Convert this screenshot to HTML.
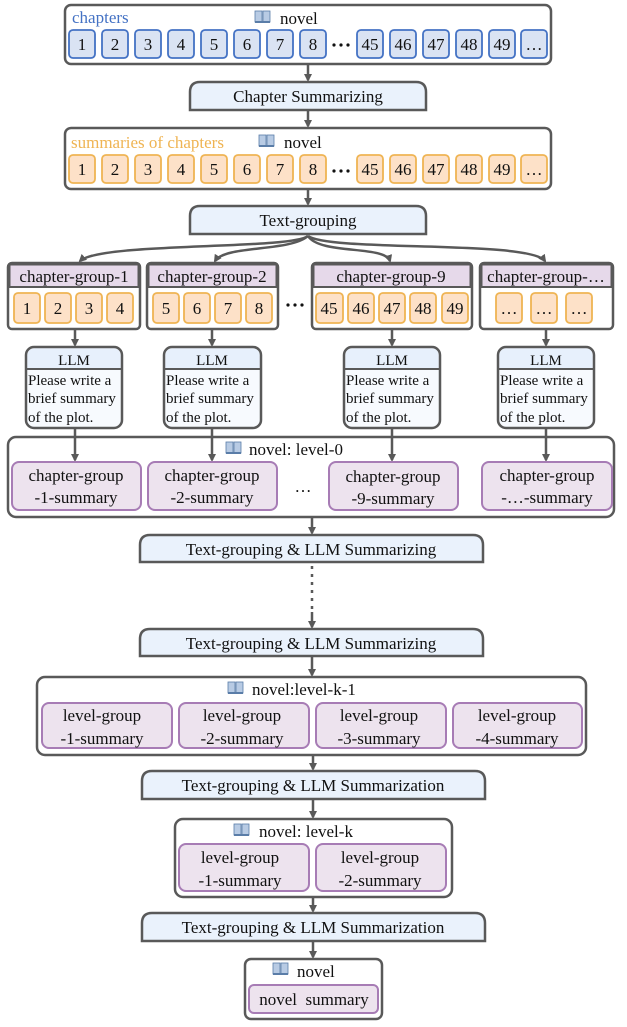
<!DOCTYPE html>
<html><head><meta charset="utf-8"><style>
body{margin:0;background:#fff}
svg, svg text{font-family:"Liberation Serif","Times New Roman","DejaVu Serif",serif}
</style></head><body>
<svg width="627" height="1022" viewBox="0 0 627 1022" xmlns="http://www.w3.org/2000/svg" font-family="Liberation Serif, Times New Roman, DejaVu Serif, serif">
<defs>
<marker id="ah" markerWidth="8" markerHeight="8" refX="6" refY="4" orient="auto" markerUnits="userSpaceOnUse"><path d="M0,0 L8,4 L0,8 Z" fill="#595959"/></marker>
<g id="book"><rect x="0" y="0" width="7" height="11" fill="#b8cbe4" stroke="#5a7da8" stroke-width="0.8"/><rect x="8" y="0" width="7" height="11" fill="#b8cbe4" stroke="#5a7da8" stroke-width="0.8"/><rect x="0" y="10" width="15" height="2" fill="#5a7da8"/></g>
</defs>
<g stroke="#595959" stroke-width="2.5" fill="none">
<rect x="65" y="5" width="486" height="59" rx="6" fill="#fff"/>
<rect x="65" y="128" width="486" height="61" rx="6" fill="#fff"/>
<rect x="8" y="437" width="606" height="80" rx="8" fill="#fff"/>
<rect x="37" y="677" width="549" height="78" rx="8" fill="#fff"/>
<rect x="175" y="819" width="277" height="78" rx="8" fill="#fff"/>
<rect x="245" y="959" width="137" height="60" rx="6" fill="#fff"/>
<path d="M190,110 V92 Q190,82 200,82 H416 Q426,82 426,92 V110 Z" fill="#eaf2fc"/>
<path d="M190,234 V216 Q190,206 200,206 H416 Q426,206 426,216 V234 Z" fill="#eaf2fc"/>
<path d="M140,562 V545 Q140,535 150,535 H473 Q483,535 483,545 V562 Z" fill="#eaf2fc"/>
<path d="M140,656 V639 Q140,629 150,629 H473 Q483,629 483,639 V656 Z" fill="#eaf2fc"/>
<path d="M142,799 V781 Q142,771 152,771 H475 Q485,771 485,781 V799 Z" fill="#eaf2fc"/>
<path d="M142,941 V923 Q142,913 152,913 H475 Q485,913 485,923 V941 Z" fill="#eaf2fc"/>
<rect x="8" y="263" width="132" height="66" rx="4" fill="#fff"/>
<rect x="147" y="263" width="131" height="66" rx="4" fill="#fff"/>
<rect x="312" y="263" width="160" height="66" rx="4" fill="#fff"/>
<rect x="480" y="263" width="133" height="66" rx="4" fill="#fff"/>
<rect x="26" y="347" width="96" height="81" rx="8" fill="#f7fafe"/>
<rect x="164" y="347" width="97" height="81" rx="8" fill="#f7fafe"/>
<rect x="344" y="347" width="96" height="81" rx="8" fill="#f7fafe"/>
<rect x="498" y="347" width="96" height="81" rx="8" fill="#f7fafe"/>
</g>
<g stroke="#595959" stroke-width="2">
<path d="M9.5,264.5 H138.5 V287 H9.5 Z" fill="#e6d9ea"/>
<path d="M148.5,264.5 H276.5 V287 H148.5 Z" fill="#e6d9ea"/>
<path d="M313.5,264.5 H470.5 V287 H313.5 Z" fill="#e6d9ea"/>
<path d="M481.5,264.5 H611.5 V287 H481.5 Z" fill="#e6d9ea"/>
</g>
<g stroke="none" fill="#e7f0fc">
<path d="M27.5,369 V356 Q27.5,348.5 35,348.5 H113 Q120.5,348.5 120.5,356 V369 Z"/>
<path d="M165.5,369 V356 Q165.5,348.5 173,348.5 H252 Q259.5,348.5 259.5,356 V369 Z"/>
<path d="M345.5,369 V356 Q345.5,348.5 353,348.5 H431 Q438.5,348.5 438.5,356 V369 Z"/>
<path d="M499.5,369 V356 Q499.5,348.5 507,348.5 H585 Q592.5,348.5 592.5,356 V369 Z"/>
</g>
<g stroke="#595959" stroke-width="2">
<line x1="27" y1="369" x2="121" y2="369"/><line x1="165" y1="369" x2="260" y2="369"/><line x1="345" y1="369" x2="439" y2="369"/><line x1="499" y1="369" x2="593" y2="369"/>
</g>
<g stroke="#595959" stroke-width="2.5" fill="none" marker-end="url(#ah)">
<line x1="308" y1="64" x2="308" y2="80"/>
<line x1="308" y1="110" x2="308" y2="126"/>
<line x1="308" y1="189" x2="308" y2="204"/>
<path d="M308,236 C290,250 100,242 80,261"/>
<path d="M308,236 C290,252 225,245 215,261"/>
<path d="M308,236 C320,255 385,245 390,261"/>
<path d="M308,236 C330,252 530,240 545,261"/>
<line x1="75" y1="329" x2="75" y2="345"/>
<line x1="212" y1="329" x2="212" y2="345"/>
<line x1="392" y1="329" x2="392" y2="345"/>
<line x1="546" y1="329" x2="546" y2="345"/>
<line x1="75" y1="428" x2="75" y2="460"/>
<line x1="212" y1="428" x2="212" y2="460"/>
<line x1="392" y1="428" x2="392" y2="460"/>
<line x1="546" y1="428" x2="546" y2="460"/>
<line x1="312" y1="517" x2="312" y2="533"/>
<line x1="312" y1="612" x2="312" y2="627"/>
<line x1="312" y1="656" x2="312" y2="675"/>
<line x1="313" y1="755" x2="313" y2="769"/>
<line x1="313" y1="799" x2="313" y2="817"/>
<line x1="313" y1="897" x2="313" y2="911"/>
<line x1="313" y1="941" x2="313" y2="957"/>
</g>
<g stroke="#595959" stroke-width="2.5" stroke-dasharray="3,5"><line x1="312" y1="566" x2="312" y2="612"/></g>

<g stroke="#4472c4" stroke-width="1.8" fill="#dae3f3">
<rect x="69" y="30" width="26" height="28" rx="4"/><rect x="102" y="30" width="26" height="28" rx="4"/><rect x="135" y="30" width="26" height="28" rx="4"/><rect x="168" y="30" width="26" height="28" rx="4"/><rect x="201" y="30" width="26" height="28" rx="4"/><rect x="234" y="30" width="26" height="28" rx="4"/><rect x="267" y="30" width="26" height="28" rx="4"/><rect x="300" y="30" width="26" height="28" rx="4"/>
<rect x="357" y="30" width="26" height="28" rx="4"/><rect x="390" y="30" width="26" height="28" rx="4"/><rect x="423" y="30" width="26" height="28" rx="4"/><rect x="456" y="30" width="26" height="28" rx="4"/><rect x="489" y="30" width="26" height="28" rx="4"/><rect x="521" y="30" width="26" height="28" rx="4"/>
</g>
<g stroke="#efb453" stroke-width="1.8" fill="#fde1c8">
<rect x="69" y="155" width="26" height="28" rx="4"/><rect x="102" y="155" width="26" height="28" rx="4"/><rect x="135" y="155" width="26" height="28" rx="4"/><rect x="168" y="155" width="26" height="28" rx="4"/><rect x="201" y="155" width="26" height="28" rx="4"/><rect x="234" y="155" width="26" height="28" rx="4"/><rect x="267" y="155" width="26" height="28" rx="4"/><rect x="300" y="155" width="26" height="28" rx="4"/>
<rect x="357" y="155" width="26" height="28" rx="4"/><rect x="390" y="155" width="26" height="28" rx="4"/><rect x="423" y="155" width="26" height="28" rx="4"/><rect x="456" y="155" width="26" height="28" rx="4"/><rect x="489" y="155" width="26" height="28" rx="4"/><rect x="521" y="155" width="26" height="28" rx="4"/>
<rect x="14" y="293" width="26" height="30" rx="4"/><rect x="45" y="293" width="26" height="30" rx="4"/><rect x="76" y="293" width="26" height="30" rx="4"/><rect x="107" y="293" width="26" height="30" rx="4"/>
<rect x="153" y="293" width="26" height="30" rx="4"/><rect x="184" y="293" width="26" height="30" rx="4"/><rect x="215" y="293" width="26" height="30" rx="4"/><rect x="246" y="293" width="26" height="30" rx="4"/>
<rect x="316" y="293" width="27" height="30" rx="4"/><rect x="348" y="293" width="26" height="30" rx="4"/><rect x="379" y="293" width="26" height="30" rx="4"/><rect x="410" y="293" width="26" height="30" rx="4"/><rect x="442" y="293" width="26" height="30" rx="4"/>
<rect x="496" y="293" width="26" height="30" rx="4"/><rect x="531" y="293" width="26" height="30" rx="4"/><rect x="566" y="293" width="26" height="30" rx="4"/>
</g>
<g stroke="#a77cb5" stroke-width="2" fill="#ede3ee">
<rect x="12" y="462" width="129" height="48" rx="7"/><rect x="148" y="462" width="129" height="48" rx="7"/><rect x="329" y="462" width="129" height="48" rx="7"/><rect x="482" y="462" width="130" height="48" rx="7"/>
<rect x="42" y="703" width="130" height="45" rx="7"/><rect x="179" y="703" width="130" height="45" rx="7"/><rect x="316" y="703" width="130" height="45" rx="7"/><rect x="453" y="703" width="129" height="45" rx="7"/>
<rect x="179" y="844" width="130" height="47" rx="7"/><rect x="316" y="844" width="130" height="47" rx="7"/>
<rect x="249" y="985" width="129" height="28" rx="5"/>
</g>
<!-- dot groups -->
<g fill="#111">
<circle cx="334" cy="45" r="1.6"/><circle cx="341" cy="45" r="1.6"/><circle cx="348" cy="45" r="1.6"/>
<circle cx="334" cy="171" r="1.6"/><circle cx="341" cy="171" r="1.6"/><circle cx="348" cy="171" r="1.6"/>
<circle cx="288" cy="305" r="1.6"/><circle cx="295" cy="305" r="1.6"/><circle cx="302" cy="305" r="1.6"/>
</g>

<g font-size="17" fill="#111" text-anchor="middle">
<text x="82" y="50">1</text><text x="115" y="50">2</text><text x="148" y="50">3</text><text x="181" y="50">4</text><text x="214" y="50">5</text><text x="247" y="50">6</text><text x="280" y="50">7</text><text x="313" y="50">8</text>
<text x="370" y="50">45</text><text x="403" y="50">46</text><text x="436" y="50">47</text><text x="469" y="50">48</text><text x="502" y="50">49</text><text x="534" y="50">…</text>
<text x="82" y="175">1</text><text x="115" y="175">2</text><text x="148" y="175">3</text><text x="181" y="175">4</text><text x="214" y="175">5</text><text x="247" y="175">6</text><text x="280" y="175">7</text><text x="313" y="175">8</text>
<text x="370" y="175">45</text><text x="403" y="175">46</text><text x="436" y="175">47</text><text x="469" y="175">48</text><text x="502" y="175">49</text><text x="534" y="175">…</text>
<text x="27" y="314">1</text><text x="58" y="314">2</text><text x="89" y="314">3</text><text x="120" y="314">4</text>
<text x="166" y="314">5</text><text x="197" y="314">6</text><text x="228" y="314">7</text><text x="259" y="314">8</text>
<text x="329" y="314">45</text><text x="361" y="314">46</text><text x="392" y="314">47</text><text x="423" y="314">48</text><text x="455" y="314">49</text>
<text x="509" y="314">…</text><text x="544" y="314">…</text><text x="579" y="314">…</text>
<text x="308" y="102">Chapter Summarizing</text>
<text x="308" y="226">Text-grouping</text>
<text x="311" y="555">Text-grouping &amp; LLM Summarizing</text>
<text x="311" y="649">Text-grouping &amp; LLM Summarizing</text>
<text x="313" y="791">Text-grouping &amp; LLM Summarization</text>
<text x="313" y="933">Text-grouping &amp; LLM Summarization</text>
<text x="74" y="282">chapter-group-1</text><text x="212" y="282">chapter-group-2</text><text x="391" y="282">chapter-group-9</text><text x="546" y="282">chapter-group-…</text>
<text x="76" y="481">chapter-group</text><text x="76" y="503">-1-summary</text>
<text x="212" y="481">chapter-group</text><text x="212" y="503">-2-summary</text>
<text x="303" y="492">…</text>
<text x="393" y="482">chapter-group</text><text x="393" y="504">-9-summary</text>
<text x="547" y="481">chapter-group</text><text x="547" y="503">-…-summary</text>
<text x="102" y="721">level-group</text><text x="102" y="744">-1-summary</text>
<text x="242" y="721">level-group</text><text x="242" y="744">-2-summary</text>
<text x="379" y="721">level-group</text><text x="379" y="744">-3-summary</text>
<text x="517" y="721">level-group</text><text x="517" y="744">-4-summary</text>
<text x="240" y="863">level-group</text><text x="240" y="886">-1-summary</text>
<text x="380" y="863">level-group</text><text x="380" y="886">-2-summary</text>
<text x="314" y="1005" xml:space="preserve">novel  summary</text>
</g>
<g font-size="15" fill="#111" text-anchor="middle">
<text x="74" y="365">LLM</text><text x="212" y="365">LLM</text><text x="392" y="365">LLM</text><text x="546" y="365">LLM</text>
</g>
<g font-size="15" fill="#111">
<text x="28" y="385">Please write a</text><text x="28" y="403">brief summary</text><text x="28" y="422">of the plot.</text>
<text x="166" y="385">Please write a</text><text x="166" y="403">brief summary</text><text x="166" y="422">of the plot.</text>
<text x="346" y="385">Please write a</text><text x="346" y="403">brief summary</text><text x="346" y="422">of the plot.</text>
<text x="500" y="385">Please write a</text><text x="500" y="403">brief summary</text><text x="500" y="422">of the plot.</text>
</g>
<g font-size="17" fill="#111">
<text x="72" y="23" fill="#4472c4">chapters</text>
<use href="#book" x="255" y="11"/><text x="280" y="24">novel</text>
<text x="71" y="148" fill="#efb453">summaries of chapters</text>
<use href="#book" x="259" y="135"/><text x="284" y="148">novel</text>
<use href="#book" x="226" y="442"/><text x="249" y="455">novel: level-0</text>
<use href="#book" x="228" y="682"/><text x="252" y="695">novel:level-k-1</text>
<use href="#book" x="234" y="824"/><text x="259" y="837">novel: level-k</text>
<use href="#book" x="273" y="963"/><text x="297" y="977">novel</text>
</g>
</svg>
</body></html>
